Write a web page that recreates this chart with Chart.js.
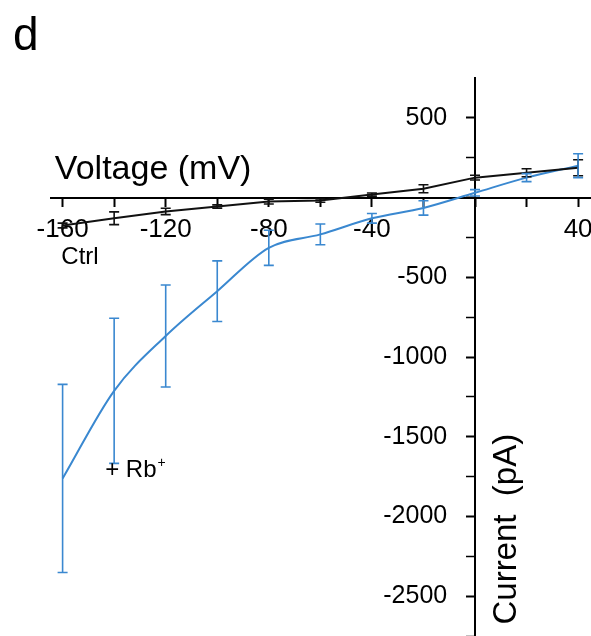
<!DOCTYPE html>
<html>
<head>
<meta charset="utf-8">
<script src="https://cdn.jsdelivr.net/npm/chart.js@4"></script>
<style>
  html, body { margin: 0; padding: 0; background: #fff; }
  #wrap { position: relative; width: 591px; height: 636px; }
  #panel { position: absolute; left: 13px; top: 11px; font: 46px "Liberation Sans", Arial, sans-serif; color: #000; line-height: 1; }
</style>
</head>
<body>
<div id="wrap">
  <div id="panel">d</div>
  <canvas id="iv-chart"></canvas>
</div>
<script>
"use strict";

// voltage steps (mV)
const voltages = [-160, -140, -120, -100, -80, -60, -40, -20, 0, 20, 40];
// mean current (pA) and error
const ctrlCurrent = [-175, -130, -87, -56, -25, -19, 19, 55, 125, 156, 187];
const ctrlError = [15, 40, 20, 10, 15, 10, 10, 25, 15, 25, 50];
const rbCurrent = [-1762, -1212, -868, -587, -315, -231, -130, -65, 30, 125, 200];
const rbError = [590, 455, 320, 190, 110, 65, 30, 45, 20, 25, 75];

const xLabelTicks = [-160, -120, -80, -40, 40];
const yLabelTicks = [500, -500, -1000, -1500, -2000, -2500];

const FONT = "'Liberation Sans', Arial, sans-serif";
const BLUE = "#3a88d0";

const errorBars = {
  id: "errorBars",
  afterDatasetsDraw(chart) {
    const { ctx, scales: { x, y } } = chart;
    chart.data.datasets.forEach(ds => {
      ctx.save();
      ctx.strokeStyle = ds.borderColor;
      ctx.lineWidth = 1.6;
      ds.data.forEach((p, i) => {
        const err = ds.errors[i];
        const px = x.getPixelForValue(p.x);
        const top = y.getPixelForValue(p.y + err);
        const bot = y.getPixelForValue(p.y - err);
        ctx.beginPath();
        ctx.moveTo(px, top); ctx.lineTo(px, bot);
        ctx.moveTo(px - 5, top); ctx.lineTo(px + 5, top);
        ctx.moveTo(px - 5, bot); ctx.lineTo(px + 5, bot);
        ctx.stroke();
      });
      ctx.restore();
    });
  }
};

const labels = {
  id: "labels",
  afterDraw(chart) {
    const { ctx, scales: { x, y } } = chart;
    ctx.save();
    ctx.fillStyle = "#000";
    ctx.textBaseline = "alphabetic";

    ctx.font = `34px ${FONT}`;
    ctx.textAlign = "left";
    ctx.fillText("Voltage (mV)", x.getPixelForValue(-163), y.getPixelForValue(118));

    ctx.font = `24px ${FONT}`;
    ctx.fillText("Ctrl", x.getPixelForValue(-160.5), y.getPixelForValue(-415));

    const rbX = x.getPixelForValue(-143.5);
    const rbY = y.getPixelForValue(-1750);
    ctx.fillText("+ Rb", rbX, rbY);
    const w = ctx.measureText("+ Rb").width;
    ctx.font = `14px ${FONT}`;
    ctx.fillText("+", rbX + w + 1, rbY - 10);

    ctx.font = `33px ${FONT}`;
    ctx.translate(x.getPixelForValue(12.5), y.getPixelForValue(-2080));
    ctx.rotate(-Math.PI / 2);
    ctx.textAlign = "center";
    ctx.textBaseline = "middle";
    ctx.fillText("Current  (pA)", 0, 0);
    ctx.restore();
  }
};

// crossed axes should not take room from the plot area
function noPadding(s) {
  s.paddingTop = 0;
  s.paddingBottom = 0;
  s.paddingLeft = 0;
  s.paddingRight = 0;
}

function buildChart() {
  const ctx = document.getElementById("iv-chart").getContext("2d");
  new Chart(ctx, {
    type: "line",
    data: {
      datasets: [
        {
          label: "Ctrl",
          data: voltages.map((v, i) => ({ x: v, y: ctrlCurrent[i] })),
          errors: ctrlError,
          borderColor: "#111",
          borderWidth: 2,
          pointRadius: 0,
          tension: 0,
        },
        {
          label: "+ Rb+",
          data: voltages.map((v, i) => ({ x: v, y: rbCurrent[i] })),
          errors: rbError,
          borderColor: BLUE,
          borderWidth: 2,
          pointRadius: 0,
          cubicInterpolationMode: "monotone",
        },
      ],
    },
    options: {
      responsive: true,
      maintainAspectRatio: false,
      animation: false,
      layout: { padding: { left: 51, top: 78, right: 0, bottom: 0 } },
      plugins: { legend: { display: false }, tooltip: { enabled: false } },
      scales: {
        x: {
          type: "linear",
          min: -164.5,
          max: 45,
          position: { y: 0 },
          afterFit: s => { s.height = 0; noPadding(s); },
          border: { color: "#000", width: 2 },
          grid: {
            drawOnChartArea: false,
            tickLength: 8,
            tickWidth: 2,
            tickColor: "#000",
          },
          ticks: {
            stepSize: 20,
            includeBounds: false,
            autoSkip: false,
            maxRotation: 0,
            padding: 9,
            color: "#000",
            font: { family: FONT, size: 26 },
            callback: v => (xLabelTicks.includes(v) ? String(v) : ""),
          },
        },
        y: {
          type: "linear",
          min: -2750,
          max: 750,
          position: { x: 0 },
          afterFit: s => { s.width = 0; noPadding(s); },
          border: { color: "#000", width: 2 },
          grid: {
            drawOnChartArea: false,
            tickLength: 8,
            tickWidth: c => (c.tick && c.tick.value % 500 === 0 ? 2 : 1.5),
            tickColor: c => (c.tick && c.tick.value < 750 ? "#000" : "rgba(0,0,0,0)"),
          },
          ticks: {
            stepSize: 250,
            includeBounds: false,
            autoSkip: false,
            color: "#000",
            font: { family: FONT, size: 25 },
            callback: v => (yLabelTicks.includes(v) ? String(v) + "    " : ""),
          },
        },
      },
    },
    plugins: [errorBars, labels],
  });
}

document.addEventListener("DOMContentLoaded", buildChart);
</script>
</body>
</html>
